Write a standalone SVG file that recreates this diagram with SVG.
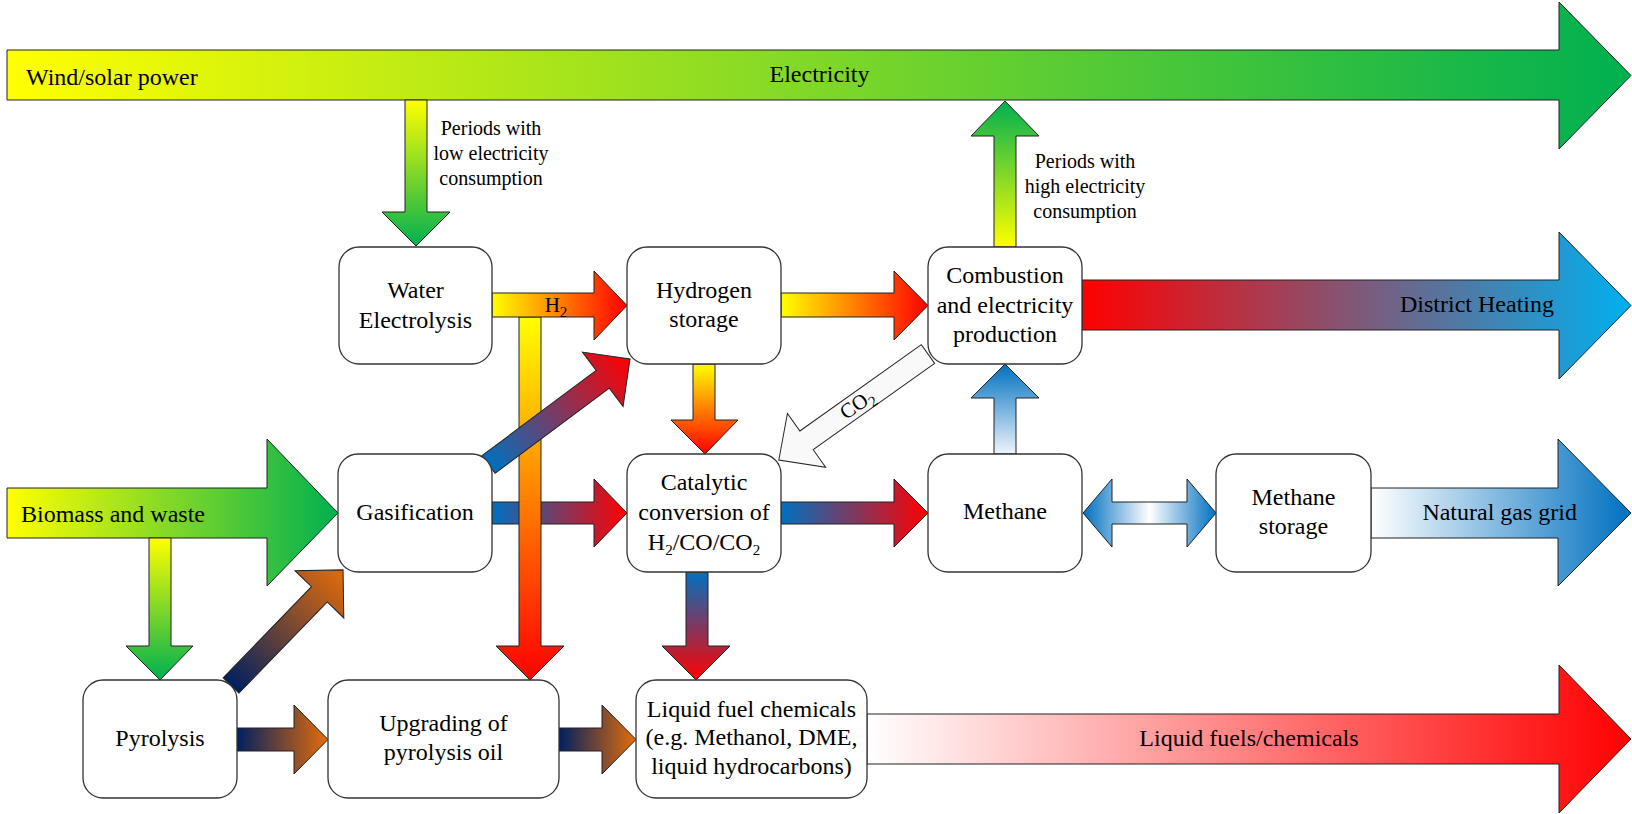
<svg xmlns="http://www.w3.org/2000/svg" width="1632" height="814" viewBox="0 0 1632 814">
<defs>
<linearGradient id="gHyg" x1="0" y1="0" x2="1" y2="0"><stop offset="0" stop-color="#ffff00"/><stop offset="1" stop-color="#00b050"/></linearGradient>
<linearGradient id="gVyg" x1="0" y1="0" x2="0" y2="1"><stop offset="0" stop-color="#ffff00"/><stop offset="1" stop-color="#00b050"/></linearGradient>
<linearGradient id="gUyg" x1="0" y1="1" x2="0" y2="0"><stop offset="0" stop-color="#ffff00"/><stop offset="1" stop-color="#00b050"/></linearGradient>
<linearGradient id="gHyr" x1="0" y1="0" x2="1" y2="0"><stop offset="0" stop-color="#ffff00"/><stop offset="1" stop-color="#ff0000"/></linearGradient>
<linearGradient id="gVyr" x1="0" y1="0" x2="0" y2="1"><stop offset="0" stop-color="#ffff00"/><stop offset="1" stop-color="#ff0000"/></linearGradient>
<linearGradient id="gHbr" x1="0" y1="0" x2="1" y2="0"><stop offset="0" stop-color="#0070c0"/><stop offset="1" stop-color="#ff0000"/></linearGradient>
<linearGradient id="gVbr" x1="0" y1="0" x2="0" y2="1"><stop offset="0" stop-color="#0070c0"/><stop offset="1" stop-color="#ff0000"/></linearGradient>
<linearGradient id="gHno" x1="0" y1="0" x2="1" y2="0"><stop offset="0" stop-color="#002060"/><stop offset="1" stop-color="#e46c0a"/></linearGradient>
<linearGradient id="gHrb" x1="0" y1="0" x2="1" y2="0"><stop offset="0" stop-color="#ff0000"/><stop offset="1" stop-color="#00b0f0"/></linearGradient>
<linearGradient id="gHwb" x1="0" y1="0" x2="1" y2="0"><stop offset="0" stop-color="#ffffff"/><stop offset="1" stop-color="#0070c0"/></linearGradient>
<linearGradient id="gHwr" x1="0" y1="0" x2="1" y2="0"><stop offset="0" stop-color="#ffffff"/><stop offset="1" stop-color="#ff0000"/></linearGradient>
<linearGradient id="gUwb" x1="0" y1="1" x2="0" y2="0"><stop offset="0" stop-color="#eef5fc"/><stop offset="1" stop-color="#0070c0"/></linearGradient>
<linearGradient id="gDbl" x1="0" y1="0" x2="1" y2="0"><stop offset="0" stop-color="#0070c0"/><stop offset="0.5" stop-color="#ffffff"/><stop offset="1" stop-color="#0070c0"/></linearGradient>
</defs>
<style>
.arr{stroke:#222;stroke-width:1;stroke-linejoin:miter}
.box{fill:#fff;stroke:#333;stroke-width:1.3}
text{font-family:"Liberation Serif","Times New Roman",serif;fill:#000}
.t24{font-size:24px}
.t20{font-size:20px}
.c{text-anchor:middle}
.sub{font-size:15px}
</style>
<rect width="1632" height="814" fill="#fff"/>
<g id="connectors">
  <g id="electricity">
    <polygon class="arr" fill="url(#gHyg)" points="7,50 1559,50 1559,2 1631,75.5 1559,149 1559,100 7,100"/>
    <text class="t24" x="26" y="85">Wind/solar power</text>
    <text class="t24 c" x="819.5" y="82">Electricity</text>
  </g>
  <g id="district-heating">
    <polygon class="arr" fill="url(#gHrb)" points="1082,280 1559,280 1559,232 1631,305.5 1559,379 1559,330 1082,330"/>
    <text class="t24" x="1554" y="312" text-anchor="end">District Heating</text>
  </g>
  <g id="natural-gas-grid">
    <polygon class="arr" fill="url(#gHwb)" points="1371,488 1558,488 1558,439 1631,513 1558,586 1558,538 1371,538"/>
    <text class="t24" x="1577" y="520" text-anchor="end">Natural gas grid</text>
  </g>
  <g id="liquid-fuels">
    <polygon class="arr" fill="url(#gHwr)" points="867,714 1559,714 1559,665 1631,739 1559,813 1559,764 867,764"/>
    <text class="t24 c" x="1249" y="746">Liquid fuels/chemicals</text>
  </g>
  <g id="biomass">
    <polygon class="arr" fill="url(#gHyg)" points="7,488 267,488 267,439 338,513 267,586 267,538 7,538"/>
    <text class="t24" x="21" y="522">Biomass and waste</text>
  </g>
  <g id="elec-to-electrolysis">
    <polygon class="arr" fill="url(#gVyg)" points="405,100 427,100 427,212 450,212 416,246 382,212 405,212"/>
    <text class="t20 c" x="491" y="135">Periods with</text>
    <text class="t20 c" x="491" y="160">low electricity</text>
    <text class="t20 c" x="491" y="185">consumption</text>
  </g>
  <g id="combustion-to-elec">
    <polygon class="arr" fill="url(#gUyg)" points="994,247 1016,247 1016,136 1039,136 1005,101 971,136 994,136"/>
    <text class="t20 c" x="1085" y="168">Periods with</text>
    <text class="t20 c" x="1085" y="193">high electricity</text>
    <text class="t20 c" x="1085" y="218">consumption</text>
  </g>
  <polygon id="biomass-to-pyrolysis" class="arr" fill="url(#gVyg)" points="149,538 171,538 171,646 193,646 160,680 126,646 149,646"/>
  <polygon id="gasif-to-catalytic" class="arr" fill="url(#gHbr)" points="492,502 594,502 594,479 627,513 594,547 594,524 492,524"/>
  <polygon id="electrolysis-to-upgrading" class="arr" fill="url(#gVyr)" points="519,317 541,317 541,646 564,646 530,680 496,646 519,646"/>
  <polygon id="gasif-to-h2storage" class="arr" fill="url(#gHbr)" transform="translate(488.5,464.5) rotate(-36.7)" points="0,-11 142.5,-11 142.5,-34 176.5,0 142.5,34 142.5,11 0,11"/>
  <g id="electrolysis-to-h2storage">
    <polygon class="arr" fill="url(#gHyr)" points="492,293 594,293 594,271 627,305.5 594,340 594,317 492,317"/>
    <text class="c" style="font-size:21px" x="556" y="312">H<tspan class="sub" dy="5">2</tspan></text>
  </g>
  <polygon id="h2storage-to-combustion" class="arr" fill="url(#gHyr)" points="781,293 894,293 894,271 928,305.5 894,340 894,317 781,317"/>
  <polygon id="h2storage-to-catalytic" class="arr" fill="url(#gVyr)" points="693,364 715,364 715,420 738,420 705,454 671,420 693,420"/>
  <polygon id="catalytic-to-methane" class="arr" fill="url(#gHbr)" points="781,502 894,502 894,479 928,513 894,547 894,524 781,524"/>
  <polygon id="catalytic-to-liquid" class="arr" fill="url(#gVbr)" points="686,572 708,572 708,646 730,646 696,680 662,646 686,646"/>
  <polygon id="methane-to-combustion" class="arr" fill="url(#gUwb)" points="994,454 1016,454 1016,398 1039,398 1005,364 971,398 994,398"/>
  <polygon id="methane-storage-link" class="arr" fill="url(#gDbl)" points="1083,513 1112,479 1112,502 1187,502 1187,479 1216,513 1187,547 1187,524 1112,524 1112,547"/>
  <polygon id="pyrolysis-to-upgrading" class="arr" fill="url(#gHno)" points="237,728 294,728 294,705 328,739.5 294,774 294,751 237,751"/>
  <polygon id="upgrading-to-liquid" class="arr" fill="url(#gHno)" points="559,728 602,728 602,705 636,739.5 602,774 602,751 559,751"/>
  <polygon id="pyrolysis-to-gasif" class="arr" fill="url(#gHno)" transform="translate(231,685.5) rotate(-45.9)" points="0,-11 127,-11 127,-34 161,0 127,34 127,11 0,11"/>
  <g id="co2-return">
    <polygon class="arr" fill="#f9f9f9" transform="translate(928,354) rotate(144.6)" points="0,-11.5 149,-11.5 149,-33 183,0 149,33 149,11.5 0,11.5"/>
    <text class="c" style="font-size:21px" transform="translate(857,404) rotate(-35.4)" y="7">CO<tspan class="sub" dy="5">2</tspan></text>
  </g>
</g>
<g id="water-electrolysis"><rect class="box" x="339" y="247" width="153" height="117" rx="20"/><text class="t24 c" x="415.5" y="298">Water</text><text class="t24 c" x="415.5" y="328">Electrolysis</text></g>
<g id="hydrogen-storage"><rect class="box" x="627" y="247" width="154" height="117" rx="20"/><text class="t24 c" x="704" y="298">Hydrogen</text><text class="t24 c" x="704" y="327">storage</text></g>
<g id="combustion"><rect class="box" x="928" y="247" width="154" height="117" rx="20"/><text class="t24 c" x="1005" y="283">Combustion</text><text class="t24 c" x="1005" y="313">and electricity</text><text class="t24 c" x="1005" y="342">production</text></g>
<g id="gasification"><rect class="box" x="338" y="454" width="154" height="118" rx="20"/><text class="t24 c" x="415" y="520">Gasification</text></g>
<g id="catalytic"><rect class="box" x="627" y="454" width="154" height="118" rx="20"/><text class="t24 c" x="704" y="490">Catalytic</text><text class="t24 c" x="704" y="520">conversion of</text><text class="t24 c" x="704" y="550">H<tspan class="sub" dy="5">2</tspan><tspan dy="-5">/CO/CO</tspan><tspan class="sub" dy="5">2</tspan></text></g>
<g id="methane"><rect class="box" x="928" y="454" width="154" height="118" rx="20"/><text class="t24 c" x="1005" y="519">Methane</text></g>
<g id="methane-storage"><rect class="box" x="1216" y="454" width="155" height="118" rx="20"/><text class="t24 c" x="1293.5" y="505">Methane</text><text class="t24 c" x="1293.5" y="534">storage</text></g>
<g id="pyrolysis"><rect class="box" x="83" y="680" width="154" height="118" rx="20"/><text class="t24 c" x="160" y="746">Pyrolysis</text></g>
<g id="upgrading"><rect class="box" x="328" y="680" width="231" height="118" rx="20"/><text class="t24 c" x="443.5" y="731">Upgrading of</text><text class="t24 c" x="443.5" y="760">pyrolysis oil</text></g>
<g id="liquid-fuel-chemicals"><rect class="box" x="636" y="680" width="231" height="118" rx="20"/><text class="t24 c" x="751.5" y="717">Liquid fuel chemicals</text><text class="t24 c" x="751.5" y="745">(e.g. Methanol, DME,</text><text class="t24 c" x="751.5" y="774">liquid hydrocarbons)</text></g>
</svg>
